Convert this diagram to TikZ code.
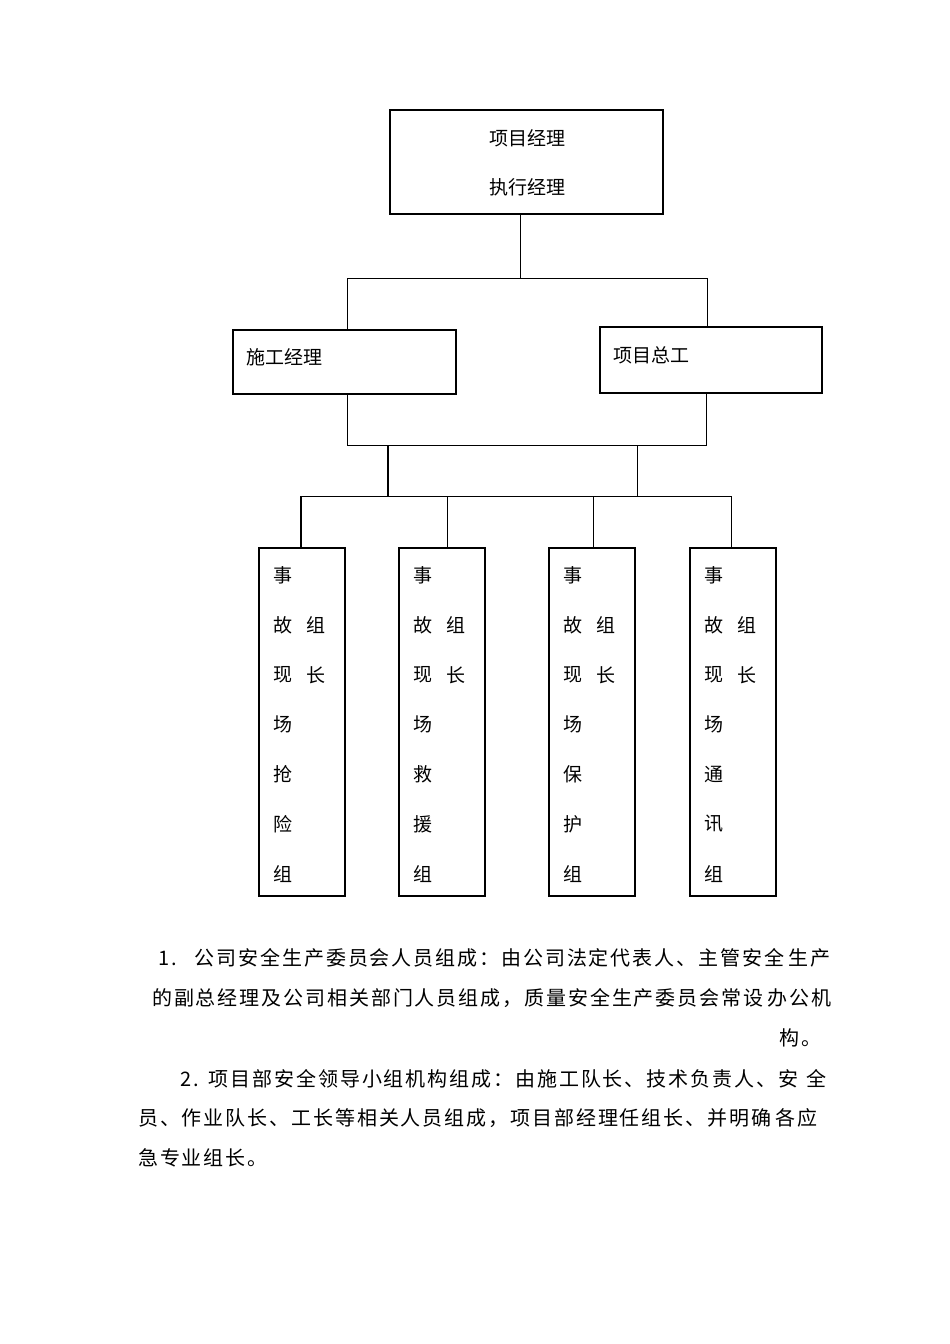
\documentclass[tikz,border=0pt]{standalone}
\usepackage{fontspec}
\setmainfont{Liberation Serif}
\newfontfamily\cjk{Noto Sans CJK SC}
\newfontfamily\cjkp{Noto Sans CJK SC}[LetterSpace=9.5]
\begin{document}
\begin{tikzpicture}[x=1pt,y=-1pt,
  box/.style={draw,line width=1.2pt},
  ln/.style={line width=1pt},
  tk/.style={line width=2pt},
  lab/.style={font=\cjk\fontsize{19}{19}\selectfont,inner sep=0pt},
  para/.style={font=\cjkp\fontsize{20}{20}\selectfont,inner sep=0pt,anchor=west}]
\useasboundingbox[fill=white] (0,0) rectangle (950,1344);
% top
\draw[box] (390,110) rectangle (663,214);
\node[lab] (t1) at (527,138) {项目经理};
\node[lab] (t2) at (527,187) {执行经理};
\draw[box] (233,330) rectangle (456,394);
\node[lab,anchor=west] (l) at (246,357) {施工经理};
\draw[box] (600,327) rectangle (822,393);
\draw[tk] (822,327) -- (822,393) -- (600,393);
\node[lab,anchor=west] (r) at (613,355) {项目总工};
\coordinate (a1) at (520,214); \coordinate (a2) at (520,278);
\draw[ln] (a1)--(a2);
\draw[ln] (347,330)--(347,278)--(707,278)--(707,327);
\draw[ln] (347,394)--(347,445)--(706,445)--(706,393);
\draw[tk] (388,445)--(388,496);
\draw[ln] (637,445)--(637,496);
\draw[ln] (301,496)--(731,496);
\draw[tk] (301,496)--(301,548);
\draw[ln] (447,496)--(447,548);
\draw[ln] (593,496)--(593,547);
\draw[ln] (731,496)--(731,548);
% bottom boxes
\foreach \x/\n/\a/\b/\c in {259/1/抢/险/组, 399/2/救/援/组, 549/3/保/护/组, 690/4/通/讯/组}{
  \draw[box] (\x,548) rectangle (\x+86,896);
  \draw[tk] (\x+86,548) -- (\x+86,896) -- (\x,896);
  \node[lab] (b\n a) at (\x+24,575) {事};
  \node[lab] (b\n b) at (\x+24,625) {故};
  \node[lab] (b\n c) at (\x+24,675) {现};
  \node[lab] (b\n d) at (\x+24,724) {场};
  \node[lab] (b\n e) at (\x+24,774) {\a};
  \node[lab] (b\n f) at (\x+24,824) {\b};
  \node[lab] (b\n g) at (\x+24,874) {\c};
  \node[lab] (b\n h) at (\x+57,625) {组};
  \node[lab] (b\n i) at (\x+57,675) {长};
}
% paragraph
\node[para] (p1) at (158,958) {1.\hspace{18pt}公司安全生产委员会人员组成：由公司法定代表人、主管安全\hspace{4pt}生产};
\node[para] (p2) at (152,998) {的副总经理及公司相关部门人员组成，质量安全生产委员会常设\hspace{4pt}办公机};
\node[para,anchor=east] (p3) at (822,1038) {构。};
\node[para] (p4) at (180,1079) {2.\hspace{10pt}项目部安全领导小组机构组成：由施工队长、技术负责人、安\hspace{8pt}全};
\node[para] (p5) at (138,1118) {员、作业队长、工长等相关人员组成，项目部经理任组长、并明确\hspace{4pt}各应};
\node[para] (p6) at (138,1158) {急专业组长。};
\end{tikzpicture}
\end{document}
